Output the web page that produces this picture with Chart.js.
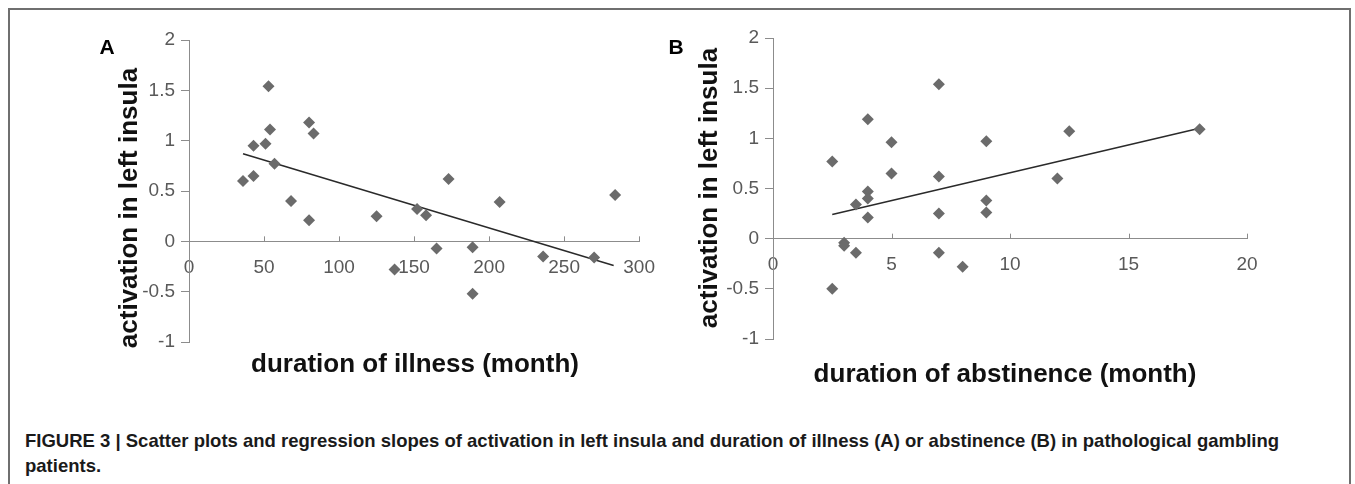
<!DOCTYPE html>
<html>
<head>
<meta charset="utf-8">
<script src="https://cdn.jsdelivr.net/npm/chart.js@4.4.1/dist/chart.umd.min.js"></script>
<style>
  body { margin: 0; background: #fff; font-family: "Liberation Sans", Arial, sans-serif; }
  #page { position: relative; width: 1355px; height: 484px; overflow: hidden; background: #fff; }
  #frame { position: absolute; left: 8px; top: 8px; width: 1339px; height: 480px; border: 2px solid #6f6f6f; border-bottom: none; }
  canvas { position: absolute; top: 0; }
  .letter { position: absolute; font-weight: bold; font-size: 21px; color: #000; transform: translate(-50%, -50%); }
  .x-title { position: absolute; font-weight: bold; font-size: 26px; color: #111; white-space: nowrap; transform: translate(-50%, -50%); }
  .y-title { position: absolute; font-weight: bold; font-size: 26px; color: #111; white-space: nowrap; transform: translate(-50%, -50%) rotate(-90deg); }
  .caption { position: absolute; left: 25px; top: 428px; font-weight: bold; font-size: 18.5px; line-height: 25px; color: #1a1a1a; white-space: nowrap; }
</style>
</head>
<body>
<div id="page">
  <div id="frame"></div>
  <canvas id="chartA" width="670" height="400" style="left:0px"></canvas>
  <canvas id="chartB" width="640" height="400" style="left:680px"></canvas>

  <div class="letter" style="left:107px; top:47px">A</div>
  <div class="letter" style="left:676px; top:47px">B</div>

  <div class="y-title" style="left:128px; top:208px">activation in left insula</div>
  <div class="y-title" style="left:708px; top:188px">activation in left insula</div>

  <div class="x-title" style="left:415px; top:363px">duration of illness  (month)</div>
  <div class="x-title" style="left:1005px; top:373px">duration of abstinence (month)</div>

  <div class="caption">FIGURE 3 | Scatter plots and regression slopes of activation in left insula and duration of illness (A) or abstinence (B) in pathological gambling<br>patients.</div>
</div>

<script>
// Panel A: duration of illness (month) vs activation
const illnessMonths = [36, 43, 43, 51, 53, 54, 57, 68, 80, 80, 83, 125, 137, 152, 158, 165, 173, 189, 189, 207, 236, 270, 284];
const illnessActivation = [0.60, 0.65, 0.95, 0.97, 1.54, 1.11, 0.77, 0.40, 1.18, 0.21, 1.07, 0.25, -0.28, 0.32, 0.26, -0.07, 0.62, -0.06, -0.52, 0.39, -0.15, -0.16, 0.46];
const illnessTrendX = [36, 283];
const illnessTrendY = [0.87, -0.24];

// Panel B: duration of abstinence (month) vs activation
const abstinenceMonths = [2.5, 2.5, 3, 3, 3.5, 3.5, 4, 4, 4, 4, 5, 5, 7, 7, 7, 7, 8, 9, 9, 9, 12, 12.5, 18];
const abstinenceActivation = [0.77, -0.50, -0.04, -0.07, 0.34, -0.14, 1.19, 0.47, 0.40, 0.21, 0.96, 0.65, 1.54, 0.62, 0.25, -0.14, -0.28, 0.97, 0.38, 0.26, 0.60, 1.07, 1.09];
const abstinenceTrendX = [2.5, 18];
const abstinenceTrendY = [0.24, 1.10];

// Axis ranges
const activationTicks = { min: -1, max: 2, step: 0.5 };
const illnessTicks = { min: 0, max: 300, step: 50 };
const abstinenceTicks = { min: 0, max: 20, step: 5 };

const axisColor = '#8c8c8c';
const tickFont = { family: "'Liberation Sans', Arial, sans-serif", size: 19 };

// Small upward tick marks on the x axis (Excel style)
const upTicks = {
    id: 'upTicks',
    afterDraw(chart) {
        const xs = chart.scales.x;
        const y0 = chart.scales.y.getPixelForValue(0);
        const ctx = chart.ctx;
        ctx.save();
        ctx.strokeStyle = axisColor;
        ctx.lineWidth = 1;
        ctx.beginPath();
        xs.ticks.forEach(t => {
            const px = Math.round(xs.getPixelForValue(t.value)) + 0.5;
            ctx.moveTo(px, y0);
            ctx.lineTo(px, y0 - 5);
        });
        ctx.stroke();
        ctx.restore();
    }
};

function toPoints(xs, ys) {
    return xs.map((x, i) => ({ x: x, y: ys[i] }));
}

// plain number labels: 2, 1.5, 1, -0.5 ...
function plainLabel(value) {
    return String(Math.round(value * 100) / 100);
}

function makeScatter(canvasId, xs, ys, trendX, trendY, xRange, padding) {
    const ctx = document.getElementById(canvasId).getContext('2d');
    return new Chart(ctx, {
        type: 'scatter',
        data: {
            datasets: [{
                data: toPoints(xs, ys),
                pointStyle: 'rectRot',
                pointRadius: 6,
                backgroundColor: '#6b6b6b',
                borderWidth: 0
            }, {
                type: 'line',
                data: toPoints(trendX, trendY),
                borderColor: '#2a2a2a',
                borderWidth: 1.5,
                pointRadius: 0,
                fill: false
            }]
        },
        options: {
            responsive: false,
            animation: false,
            layout: { padding: padding },
            plugins: { legend: { display: false }, tooltip: { enabled: false } },
            scales: {
                x: {
                    type: 'linear',
                    position: { y: 0 },
                    min: xRange.min,
                    max: xRange.max,
                    ticks: { stepSize: xRange.step, color: '#595959', font: tickFont, padding: 15, callback: plainLabel },
                    grid: { display: true, drawOnChartArea: false, drawTicks: false },
                    border: { display: true, color: axisColor, width: 1 }
                },
                y: {
                    type: 'linear',
                    position: 'left',
                    min: activationTicks.min,
                    max: activationTicks.max,
                    afterFit: scale => { scale.width = 80; },
                    ticks: { stepSize: activationTicks.step, color: '#595959', font: tickFont, padding: 6, callback: plainLabel },
                    grid: { drawOnChartArea: false, drawTicks: true, tickLength: 8, color: axisColor },
                    border: { display: true, color: axisColor, width: 1 }
                }
            }
        },
        plugins: [upTicks]
    });
}

// Chart area A: x 189..642, y 40..342 ; B: x 773..1247, y 38..339
makeScatter('chartA', illnessMonths, illnessActivation, illnessTrendX, illnessTrendY, illnessTicks,
    { left: 109, right: 28, top: 40, bottom: 58 });
makeScatter('chartB', abstinenceMonths, abstinenceActivation, abstinenceTrendX, abstinenceTrendY, abstinenceTicks,
    { left: 13, right: 73, top: 38, bottom: 61 });
</script>
</body>
</html>
